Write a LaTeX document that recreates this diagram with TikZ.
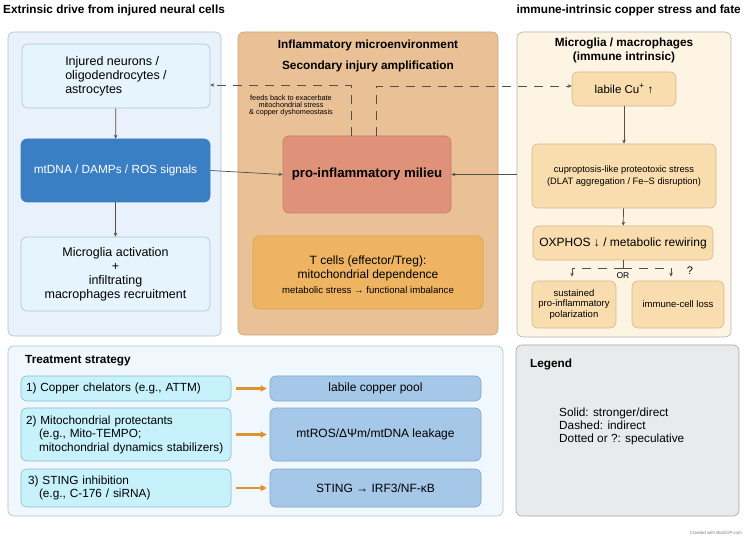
\documentclass[tikz,border=0pt]{standalone}
\usepackage{fontspec}
\setmainfont{Liberation Sans}
\usetikzlibrary{positioning, arrows.meta, backgrounds}
\definecolor{lbluepanel}{HTML}{E9F2FA}
\definecolor{lbluenode}{HTML}{E6F5FD}
\definecolor{lblueline}{HTML}{A9C3D6}
\definecolor{mtblue}{HTML}{3A7FC3}
\definecolor{tanpanel}{HTML}{EAC196}
\definecolor{tanline}{HTML}{C9A27E}
\definecolor{milieu}{HTML}{DF917A}
\definecolor{milieuline}{HTML}{B98070}
\definecolor{tcell}{HTML}{EEB462}
\definecolor{tcellline}{HTML}{D7A25A}
\definecolor{creampanel}{HTML}{FEF4E4}
\definecolor{creamnode}{HTML}{F9DDAE}
\definecolor{creamline}{HTML}{D4B88F}
\definecolor{treatpanel}{HTML}{F0F8FD}
\definecolor{cyanbox}{HTML}{C7F2FB}
\definecolor{cyanline}{HTML}{8BBBD0}
\definecolor{targetbox}{HTML}{A6C8E8}
\definecolor{targetline}{HTML}{7FA6CB}
\definecolor{legendgray}{HTML}{E9EAEB}
\definecolor{myorange}{HTML}{E0922F}
\definecolor{arrowgray}{HTML}{505050}
\newcommand{\fsz}[2]{\fontsize{#1}{#2}\selectfont}
\tikzset{
	panel/.style={
			shape=rectangle,
			rounded corners=6pt,
			line width=0.6pt,
			inner sep=0pt
		},
	boxnode/.style={
			shape=rectangle,
			rounded corners=6pt,
			line width=0.6pt,
			inner sep=4pt,
			align=center
		},
	bluepanel/.style={panel, draw=lblueline, fill=lbluepanel},
	bluenode/.style={boxnode, draw=lblueline, fill=lbluenode, font=\fsz{12.5}{14}},
	tanbox/.style={panel, draw=tanline, fill=tanpanel},
	creambox/.style={panel, draw=gray!60, fill=creampanel},
	creamcell/.style={boxnode, draw=creamline, fill=creamnode},
	treatbox/.style={boxnode, draw=cyanline, fill=cyanbox, align=left,
			text width=202pt, inner xsep=4pt, font=\fsz{11.8}{13.5}},
	targetnode/.style={boxnode, draw=targetline, fill=targetbox, font=\fsz{12}{13.5}},
	headtext/.style={font=\bfseries\fsz{11.8}{13}, inner sep=0pt},
	flowarrow/.style={-{Stealth[length=4pt,width=3.5pt]}, draw=arrowgray, line width=0.7pt},
	dasharrow/.style={flowarrow, dash pattern=on 9pt off 7pt},
	orangearrow/.style={-{Triangle[length=6pt,width=6pt]}, draw=myorange, line width=2.2pt}
}

\begin{document}
\begin{tikzpicture}[x=1pt,y=-1pt]
  \useasboundingbox[fill=white] (0,0) rectangle (750,537);

  % column headings
  \node[headtext, anchor=west] (lhead) at (3,10) {Extrinsic drive from injured neural cells};
  \node[headtext, anchor=east] (rhead) at (741,10) {immune-intrinsic copper stress and fate};

  % left column
  \node[bluepanel, minimum width=213pt, minimum height=304pt] (lpanel) at (114.5,184) {};
  \node[bluenode, align=left, minimum width=188pt, minimum height=64pt] (injured) at (116,76)
    {Injured neurons /\\ oligodendrocytes /\\ astrocytes};
  \node[boxnode, draw=mtblue, fill=mtblue, text=white, font=\fsz{11.8}{14},
    minimum width=189pt, minimum height=63pt] (mtdna) at (115.5,170.5) {mtDNA / DAMPs / ROS signals};
  \node[bluenode, minimum width=189pt, minimum height=74pt] (activation) at (115.5,274)
    {Microglia activation\\ +\\ infiltrating\\ macrophages recruitment};

  % centre column
  \node[tanbox, minimum width=260pt, minimum height=303pt] (cpanel) at (368,183.5) {};
  \node[headtext] (ctitle1) at (368,45) {Inflammatory microenvironment};
  \node[headtext] (ctitle2) at (368,66) {Secondary injury amplification};
  \node[boxnode, draw=milieuline, fill=milieu, font=\bfseries\fsz{13.2}{15},
    minimum width=168pt, minimum height=77pt] (milieu) at (367,174.5) {pro-inflammatory milieu};
  \node[boxnode, draw=tcellline, fill=tcell, minimum width=230pt, minimum height=73pt] (tcells) at (368,272.5) {};
  \node[align=center, inner sep=0pt, font=\fsz{12}{14}] (tcelltxt) at (368,274.5)
    {T cells (effector/Treg):\\ mitochondrial dependence\\[1pt] {\fsz{9.6}{12}metabolic stress → functional imbalance}};
  \node[align=center, inner sep=0pt, font=\fsz{7.3}{7}] (feedtxt) at (291,106)
    {feeds back to exacerbate\\ mitochondrial stress\\ \& copper dyshomeostasis};

  % right column
  \node[creambox, minimum width=214pt, minimum height=305pt] (rpanel) at (624,184.5) {};
  \node[headtext] (rtitle1) at (624,43) {Microglia / macrophages};
  \node[headtext] (rtitle2) at (624,57) {(immune intrinsic)};
  \node[creamcell, font=\fsz{11.5}{13}, minimum width=104pt, minimum height=34pt] (labile) at (624,89)
    {labile Cu\textsuperscript{+} ↑};
  \node[creamcell, font=\fsz{9.3}{12}, minimum width=184pt, minimum height=64pt] (cupro) at (624,176)
    {cuproptosis-like proteotoxic stress\\ (DLAT aggregation / Fe–S disruption)};
  \node[creamcell, font=\fsz{12}{13}, minimum width=180pt, minimum height=34pt] (oxphos) at (623,243)
    {OXPHOS ↓ / metabolic rewiring};
  \node[creamcell, font=\fsz{9.5}{10.2}, inner sep=1pt, minimum width=84pt, minimum height=47pt] (sustained) at (574,304.5)
    {sustained\\ pro-inflammatory\\ polarization};
  \node[creamcell, font=\fsz{9.5}{10.2}, minimum width=92pt, minimum height=47pt] (cellloss) at (678,304.5)
    {immune-cell loss};
  \coordinate (orsplit) at (623,268);
  \node[font=\fsz{8.5}{9}, inner sep=0pt] (ortxt) at (623,275.5) {OR};
  \node[font=\fsz{11}{12}, inner sep=0pt] (qmark) at (690,271) {?};

  % connectors
  \draw[flowarrow] (injured) -- (mtdna);
  \draw[flowarrow] (mtdna) -- (activation);
  \draw[flowarrow] (mtdna.east) -- (milieu.west);
  \draw[flowarrow] (rpanel.west |- milieu.east) -- (milieu.east);
  \draw[dasharrow] ([xshift=-16pt]milieu.north) |- ([yshift=-9pt]injured.east);
  \draw[dasharrow] ([xshift=9pt]milieu.north) |- ([yshift=3pt]labile.west);
  \draw[flowarrow] (labile) -- (cupro);
  \draw[flowarrow] (cupro) -- (oxphos);
  \draw[draw=arrowgray, line width=0.7pt] (oxphos.south) -- (orsplit);
  \draw[dasharrow, shorten >=4pt] (orsplit) -| ([xshift=-2pt]sustained.north);
  \draw[dasharrow, shorten >=4pt] (orsplit) -| ([xshift=-7pt]cellloss.north);

  % treatment strategy
  \node[bluepanel, fill=treatpanel, minimum width=495pt, minimum height=170pt] (tpanel) at (255.5,431) {};
  \node[headtext, anchor=west] (ttitle) at (25,361) {Treatment strategy};
  \node[treatbox, minimum width=210pt, minimum height=25pt] (chelator) at (126,388.5)
    {\hspace*{1pt}1) Copper chelators (e.g., ATTM)};
  \node[treatbox, minimum width=210pt, minimum height=53pt] (protect) at (126,434.5)
    {\hspace*{1pt}2) Mitochondrial protectants\\ \hspace*{14pt}(e.g., Mito-TEMPO;\\ \hspace*{14pt}mitochondrial dynamics stabilizers)};
  \node[treatbox, minimum width=210pt, minimum height=38pt] (stinginh) at (126,488)
    {\hspace*{3pt}3) STING inhibition\\ \hspace*{14pt}(e.g., C-176 / siRNA)};
  \node[targetnode, minimum width=211pt, minimum height=25pt] (cupool) at (375.5,388.5) {labile copper pool};
  \node[targetnode, minimum width=211pt, minimum height=53pt] (mtros) at (375.5,434.5) {mtROS/ΔΨm/mtDNA leakage};
  \node[targetnode, minimum width=211pt, minimum height=38pt] (sting) at (375.5,488) {STING → IRF3/NF-κB};
  \draw[orangearrow, shorten <=5pt, shorten >=3pt] (chelator) -- (cupool);
  \draw[orangearrow, shorten <=5pt, shorten >=3pt] (protect) -- (mtros);
  \draw[orangearrow, shorten <=5pt, shorten >=3pt] (stinginh) -- (sting);

  % legend
  \node[panel, draw=gray!70, fill=legendgray, minimum width=223pt, minimum height=171pt] (legend) at (627.5,430.5) {};
  \node[headtext, anchor=west] (legtitle) at (530,364) {Legend};
  \node[anchor=north west, align=left, inner sep=0pt, font=\fsz{11.8}{13}] (legtxt) at (559,408)
    {Solid: stronger/direct\\ Dashed: indirect\\ Dotted or ?: speculative};

  \node[anchor=east, inner sep=0pt, text=gray, font=\fsz{4.5}{5}] (credit) at (742,533) {Created with BioGDP.com};

\end{tikzpicture}
\end{document}
